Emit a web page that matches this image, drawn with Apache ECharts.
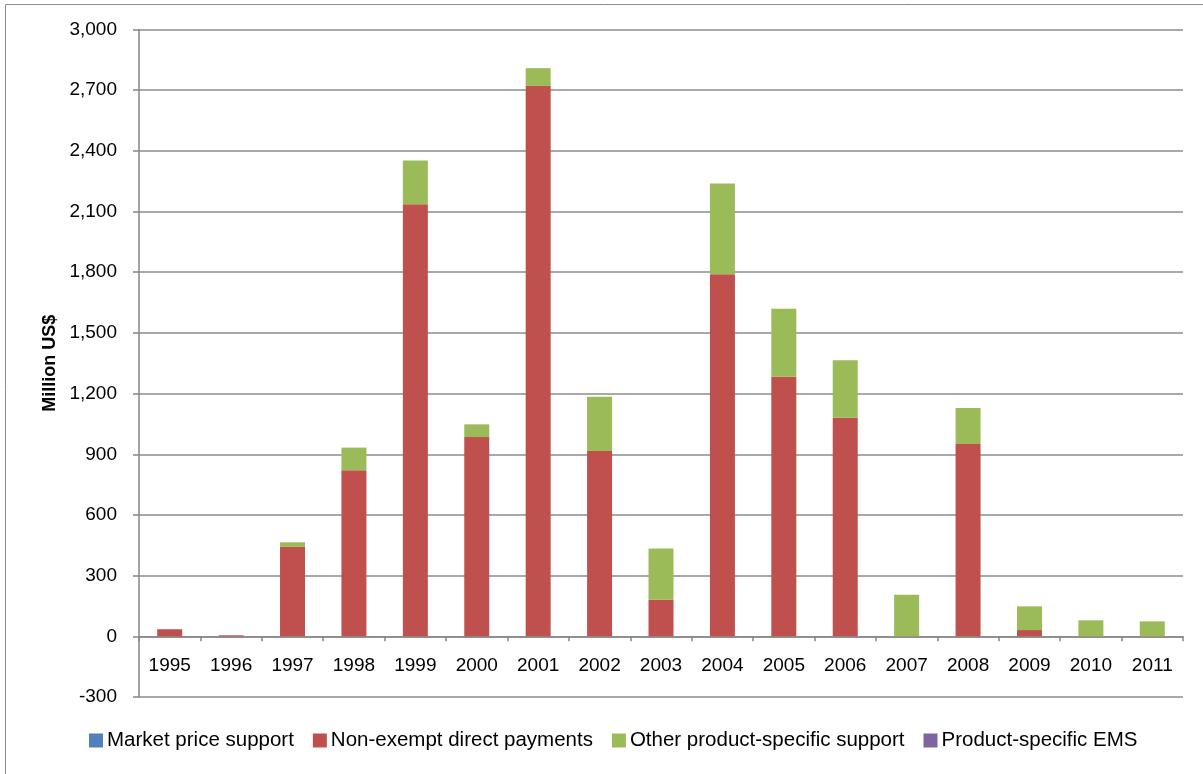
<!DOCTYPE html>
<html>
<head>
<meta charset="utf-8">
<script src="https://cdn.jsdelivr.net/npm/echarts@6/dist/echarts.min.js"></script>
<style>
html,body{margin:0;padding:0;background:#fff;}
#chart{width:1203px;height:774px;}
</style>
</head>
<body>
<div id="chart"></div>
<script>
const years = ['1995','1996','1997','1998','1999','2000','2001','2002','2003','2004','2005','2006','2007','2008','2009','2010','2011'];
const marketPriceSupport = [0,0,0,0,0,0,0,0,0,0,0,0,0,0,0,0,0];
const nonExemptDirectPayments = [35,5,442,821,2136,985,2721,916,181,1790,1283,1080,0,951,31,0,0];
const otherProductSpecific = [0,0,23,112,216,63,88,269,253,449,336,285,206,178,117,79,74];
const productSpecificEMS = [0,0,0,0,0,0,0,0,0,0,0,0,0,0,0,0,0];
const seriesNames = ['Market price support','Non-exempt direct payments','Other product-specific support','Product-specific EMS'];
const seriesColors = ['#4F81BD','#C0504D','#9BBB59','#8064A2'];

const FONT = 'Liberation Sans';
const chart = echarts.init(document.getElementById('chart'));
const dataSets = [marketPriceSupport, nonExemptDirectPayments, otherProductSpecific, productSpecificEMS];

chart.setOption({
  animation: false,
  textStyle: {fontFamily: FONT},
  graphic: [{
    type: 'rect', silent: true,
    shape: {x: 5.5, y: 4.5, width: 1400, height: 1000},
    style: {fill: 'none', stroke: '#8c8c8c', lineWidth: 1}
  }],
  grid: {left: 139, right: 20, top: 29.5, bottom: 77, containLabel: false},
  legend: {
    bottom: 18, left: 84,
    itemWidth: 14, itemHeight: 14, itemGap: 19,
    icon: 'rect',
    textStyle: {fontFamily: FONT, fontSize: 20.5, color: '#000', padding: [0,0,0,-1]},
    data: seriesNames
  },
  xAxis: {
    type: 'category',
    data: years,
    axisLine: {onZero: true, lineStyle: {color: '#868686', width: 1.5}},
    axisTick: {show: true, length: 5, inside: false, lineStyle: {color: '#868686', width: 1.5}},
    axisLabel: {fontFamily: FONT, fontSize: 19, color: '#000', margin: -41},
    splitLine: {show: false}
  },
  yAxis: {
    type: 'value',
    min: -300, max: 3000, interval: 300,
    name: 'Million US$',
    nameLocation: 'middle',
    nameGap: 80,
    nameTextStyle: {fontFamily: FONT, fontSize: 18, fontWeight: 'bold', color: '#000'},
    axisLine: {show: true, lineStyle: {color: '#868686', width: 1.5}},
    axisTick: {show: true, length: 6, lineStyle: {color: '#868686', width: 1.5}},
    axisLabel: {
      fontFamily: FONT, fontSize: 19, color: '#000', margin: 22,
      formatter: v => v.toLocaleString('en-US')
    },
    splitLine: {show: true, lineStyle: {color: '#8c8c8c', width: 1.5}}
  },
  series: seriesNames.map((n, i) => ({
    name: n,
    type: 'bar',
    stack: 'total',
    barWidth: 25,
    itemStyle: {color: seriesColors[i]},
    data: dataSets[i]
  }))
});
</script>
</body>
</html>
